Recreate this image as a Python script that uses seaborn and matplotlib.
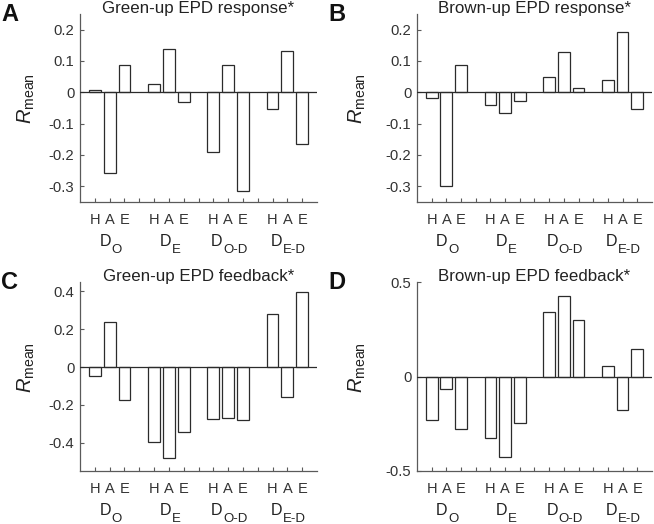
import numpy as np
import pandas as pd
import matplotlib
matplotlib.use("Agg")
import matplotlib.pyplot as plt
import matplotlib.transforms as mtransforms
import seaborn as sns

# Data
components = ["H", "A", "E"]
group_subs = ["O", "E", "O-D", "E-D"]

green_response = [0.008, -0.258, 0.086, 0.025, 0.137, -0.030,
                  -0.190, 0.086, -0.316, -0.053, 0.131, -0.166]
brown_response = [-0.017, -0.300, 0.086, -0.041, -0.067, -0.028,
                  0.050, 0.129, 0.014, 0.038, 0.192, -0.054]
green_feedback = [-0.048, 0.239, -0.172, -0.398, -0.483, -0.343,
                  -0.276, -0.269, -0.280, 0.280, -0.158, 0.396]
brown_feedback = [-0.230, -0.067, -0.279, -0.325, -0.428, -0.246,
                  0.342, 0.425, 0.298, 0.053, -0.177, 0.147]

titles = ["Green-up EPD response*", "Brown-up EPD response*",
          "Green-up EPD feedback*", "Brown-up EPD feedback*"]
letters = ["A", "B", "C", "D"]
yticks_list = [[-0.3, -0.2, -0.1, 0, 0.1, 0.2],
               [-0.3, -0.2, -0.1, 0, 0.1, 0.2],
               [-0.4, -0.2, 0, 0.2, 0.4],
               [-0.5, 0, 0.5]]
ylims = [(-0.35, 0.25), (-0.35, 0.25), (-0.55, 0.45), (-0.5, 0.5)]

sns.set_theme(style="white")
plt.rcParams["font.family"] = ["Liberation Sans", "DejaVu Sans"]
plt.rcParams["mathtext.fontset"] = "custom"
plt.rcParams["mathtext.rm"] = "Liberation Sans"
plt.rcParams["mathtext.it"] = "Liberation Sans:italic"
plt.rcParams["mathtext.bf"] = "Liberation Sans:bold"
plt.rcParams["axes.unicode_minus"] = False

W, H = 654, 524
fig = plt.figure(figsize=(W / 100, H / 100), dpi=100)
renderer = fig.canvas.get_renderer()

# axes boxes in pixels: left, top, right, bottom
boxes = [(80, 14, 317, 202), (417, 14, 652, 202),
         (80, 282, 317, 471), (417, 282, 652, 471)]
label_x = [-0.18, -0.21, -0.18, -0.21]
letter_pos = [(1, 3), (328, 3), (1, 271), (328, 271)]

series = [green_response, brown_response, green_feedback, brown_feedback]
pos = [4 * g + c + 1 for g in range(4) for c in range(3)]
dark = "#2b2b2b"
grey = "#5a5a5a"
txt = "#222222"

for i, vals in enumerate(series):
    l, t, r, b = boxes[i]
    ax = fig.add_axes([l / W, 1 - b / H, (r - l) / W, (b - t) / H])
    df = pd.DataFrame({"pos": pos, "val": vals})
    sns.barplot(data=df, x="pos", y="val", native_scale=True, width=0.8,
                color="white", edgecolor=dark, linewidth=0.9,
                errorbar=None, ax=ax)
    ax.axhline(0, color=dark, lw=0.9, zorder=5)
    ax.set_xlim(0, 16)
    ax.set_ylim(*ylims[i])
    ax.set_xlabel("")
    ax.set_ylabel(r"$R_{\mathrm{mean}}$", fontsize=14.5, color=txt)
    ax.yaxis.set_label_coords(label_x[i], 0.55)

    ticks = list(range(1, 16))
    labs = [components[(k - 1) % 4] if k % 4 != 0 else "" for k in ticks]
    ax.set_xticks(ticks)
    ax.set_xticklabels(labs, fontsize=10.5, color="#333333")
    yt = yticks_list[i]
    ax.set_yticks(yt)
    ax.set_yticklabels([f"{v:g}" for v in yt], fontsize=10.7, color="#333333")
    ax.tick_params(axis="x", direction="in", length=3, width=0.8,
                   color=grey, pad=8, bottom=True)
    ax.tick_params(axis="y", direction="in", length=3, width=0.8,
                   color=grey, pad=4, left=True)
    for s in ["top", "right"]:
        ax.spines[s].set_visible(False)
    for s in ["left", "bottom"]:
        ax.spines[s].set_color(grey)
        ax.spines[s].set_linewidth(0.9)

    # group labels: D with a large subscript
    trans = mtransforms.blended_transform_factory(ax.transData, ax.transAxes)
    hgt = b - t
    for g, sub in enumerate(group_subs):
        xc = 4 * g + 2
        d = ax.text(xc, -44 / hgt, "D", transform=trans, ha="left",
                    va="baseline", fontsize=11.5, color=txt)
        s_ = ax.text(xc, -51.5 / hgt, sub, transform=trans, ha="left",
                     va="baseline", fontsize=9.5, color=txt)
        wd = d.get_window_extent(renderer).width
        ws = s_.get_window_extent(renderer).width
        total = wd + ws + 0.5
        shift = mtransforms.ScaledTranslation(-total / 2 / 100 + 1 / 100, 0,
                                              fig.dpi_scale_trans)
        d.set_transform(trans + shift)
        shift2 = mtransforms.ScaledTranslation((-total / 2 + wd + 0.5) / 100 + 1 / 100, 0,
                                               fig.dpi_scale_trans)
        s_.set_transform(trans + shift2)

    ax.set_title(titles[i], fontsize=12.2, color=txt, pad=1)
    fig.text(letter_pos[i][0] / W, 1 - letter_pos[i][1] / H, letters[i],
             fontsize=17, fontweight="bold", va="top", ha="left", color="#111111")

fig.savefig("out.png", dpi=100)
